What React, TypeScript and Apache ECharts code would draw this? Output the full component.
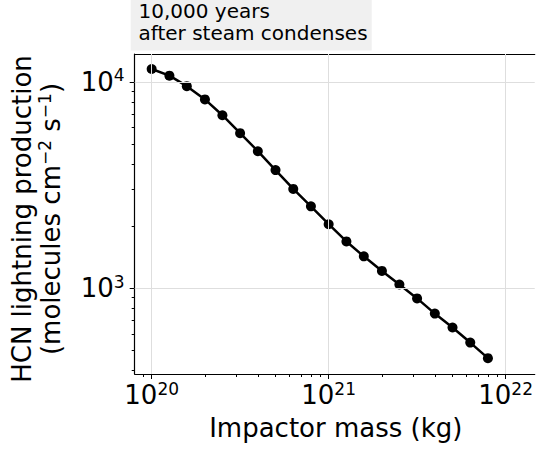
import React, { useEffect, useRef } from "react";
import * as echarts from "echarts";

// ---- data ----
const massKg = [
  1.0e20, 1.26e20, 1.58e20, 2.0e20, 2.51e20, 3.16e20, 3.98e20, 5.01e20, 6.31e20, 7.94e20,
  1.0e21, 1.26e21, 1.58e21, 2.0e21, 2.51e21, 3.16e21, 3.98e21, 5.01e21, 6.31e21, 7.94e21,
];
const hcnProduction = [
  11550, 10720, 9530, 8220, 6890, 5640, 4610, 3735, 3025, 2490,
  2040, 1683, 1425, 1211, 1041, 891, 752, 644, 544, 457,
];
const xMajorExponents = [20, 21, 22];
const yMajorExponents = [3, 4];
const xMinorTicks = [
  9e19, 2e20, 3e20, 4e20, 5e20, 6e20, 7e20, 8e20, 9e20,
  2e21, 3e21, 4e21, 5e21, 6e21, 7e21, 8e21, 9e21,
];
const yMinorTicks = [400, 500, 600, 700, 800, 900, 2000, 3000, 4000, 5000, 6000, 7000, 8000, 9000];
const xRange = [8.02e19, 1.46e22];
const yRange = [383, 13650];
const titleLines = ["10,000 years", "after steam condenses"];
const xTitle = "Impactor mass (kg)";
const yTitleLine1 = "{b|HCN lightning production}";
const yTitleLine2 = "{b|(molecules cm}{s|−2}{b| s}{s|−1}{b|)}";

const FONT = "DejaVu Sans";
const lg = (v: number) => Math.log10(v);

export default function App() {
  const ref = useRef<HTMLDivElement>(null);
  useEffect(() => {
    if (!ref.current) return;
    const chart = echarts.init(ref.current, undefined, { renderer: "svg" });
    const xMin = lg(xRange[0]);
    const xMax = lg(xRange[1]);
    const yMin = lg(yRange[0]);
    const yMax = lg(yRange[1]);
    const labelRich = {
      b: { fontSize: 26, lineHeight: 30, fontFamily: FONT, color: "#000" },
      s: { fontSize: 17, lineHeight: 16, fontFamily: FONT, color: "#000", verticalAlign: "top" },
    };
    const supFmt = (v: number) => "{b|10}{s|" + Math.round(v) + "}";
    const axisLineStyle = { color: "#000", width: 1.2 };
    const baseX = {
      type: "value",
      min: xMin,
      max: xMax,
      gridIndex: 0,
      splitLine: { show: false },
    };
    const baseY = {
      type: "value",
      min: yMin,
      max: yMax,
      gridIndex: 0,
      splitLine: { show: false },
    };
    const option: any = {
      animation: false,
      grid: { left: 134.7, top: 54, right: 0, bottom: 75 },
      xAxis: [
        {
          ...baseX,
          position: "bottom",
          axisLine: { show: true, lineStyle: axisLineStyle },
          axisTick: {
            show: true,
            inside: false,
            length: 5,
            lineStyle: { color: "#000", width: 1 },
            customValues: xMajorExponents,
          },
          axisLabel: {
            show: true,
            margin: 6,
            customValues: xMajorExponents,
            formatter: supFmt,
            rich: labelRich,
          },
        },
        {
          ...baseX,
          position: "bottom",
          axisLine: { show: false },
          axisTick: {
            show: true,
            inside: false,
            length: 3,
            lineStyle: { color: "#000", width: 1 },
            customValues: xMinorTicks.map(lg),
          },
          axisLabel: { show: false },
        },
        {
          ...baseX,
          position: "top",
          axisLine: { show: true, lineStyle: axisLineStyle },
          axisTick: { show: false },
          axisLabel: { show: false },
        },
      ],
      yAxis: [
        {
          ...baseY,
          position: "left",
          axisLine: { show: true, lineStyle: axisLineStyle },
          axisTick: {
            show: true,
            inside: false,
            length: 5,
            lineStyle: { color: "#000", width: 1 },
            customValues: yMajorExponents,
          },
          axisLabel: {
            show: true,
            margin: 10,
            customValues: yMajorExponents,
            formatter: supFmt,
            rich: labelRich,
          },
        },
        {
          ...baseY,
          position: "left",
          axisLine: { show: false },
          axisTick: {
            show: true,
            inside: false,
            length: 3,
            lineStyle: { color: "#000", width: 1 },
            customValues: yMinorTicks.map(lg),
          },
          axisLabel: { show: false },
        },
      ],
      series: [
        {
          type: "line",
          xAxisIndex: 0,
          yAxisIndex: 0,
          data: [],
          z: 1,
          silent: true,
          markLine: {
            silent: true,
            symbol: "none",
            label: { show: false },
            lineStyle: { color: "#dedede", width: 1, type: "solid" },
            data: [
              ...xMajorExponents.map((e) => ({ xAxis: e })),
              ...yMajorExponents.map((e) => ({ yAxis: e })),
            ],
          },
        },
        {
          type: "line",
          xAxisIndex: 0,
          yAxisIndex: 0,
          z: 3,
          data: massKg.map((m, i) => [lg(m), lg(hcnProduction[i])]),
          symbol: "circle",
          symbolSize: 10,
          showSymbol: true,
          itemStyle: { color: "#000" },
          lineStyle: { color: "#000", width: 2.5 },
        },
      ],
      graphic: [
        {
          type: "rect",
          shape: { x: 130.7, y: -5, width: 241, height: 55.5 },
          style: { fill: "#f0f0f0" },
          z: 10,
        },
        {
          type: "text",
          x: 138.5,
          y: 0,
          z: 11,
          style: {
            text: titleLines.join("\n"),
            fontSize: 20,
            lineHeight: 22,
            fontFamily: FONT,
            fill: "#000",
            align: "left",
            verticalAlign: "top",
          },
        },
        {
          type: "text",
          x: 335.8,
          y: 428,
          z: 11,
          style: {
            text: xTitle,
            fontSize: 26,
            fontFamily: FONT,
            fill: "#000",
            align: "center",
            verticalAlign: "middle",
          },
        },
        {
          type: "text",
          x: 36,
          y: 219,
          rotation: Math.PI / 2,
          z: 11,
          style: {
            text: yTitleLine1 + "\n" + yTitleLine2,
            rich: {
              b: { fontSize: 26, lineHeight: 29, fontFamily: FONT, fill: "#000" },
              s: { fontSize: 17, lineHeight: 14, fontFamily: FONT, fill: "#000", verticalAlign: "top" },
            },
            fontSize: 26,
            fontFamily: FONT,
            fill: "#000",
            align: "center",
            verticalAlign: "middle",
          },
        },
      ],
    };
    chart.setOption(option);
    return () => chart.dispose();
  }, []);
  return (
    <div
      ref={ref}
      style={{ position: "absolute", left: 0, top: 0, width: 536, height: 449 }}
    />
  );
}
